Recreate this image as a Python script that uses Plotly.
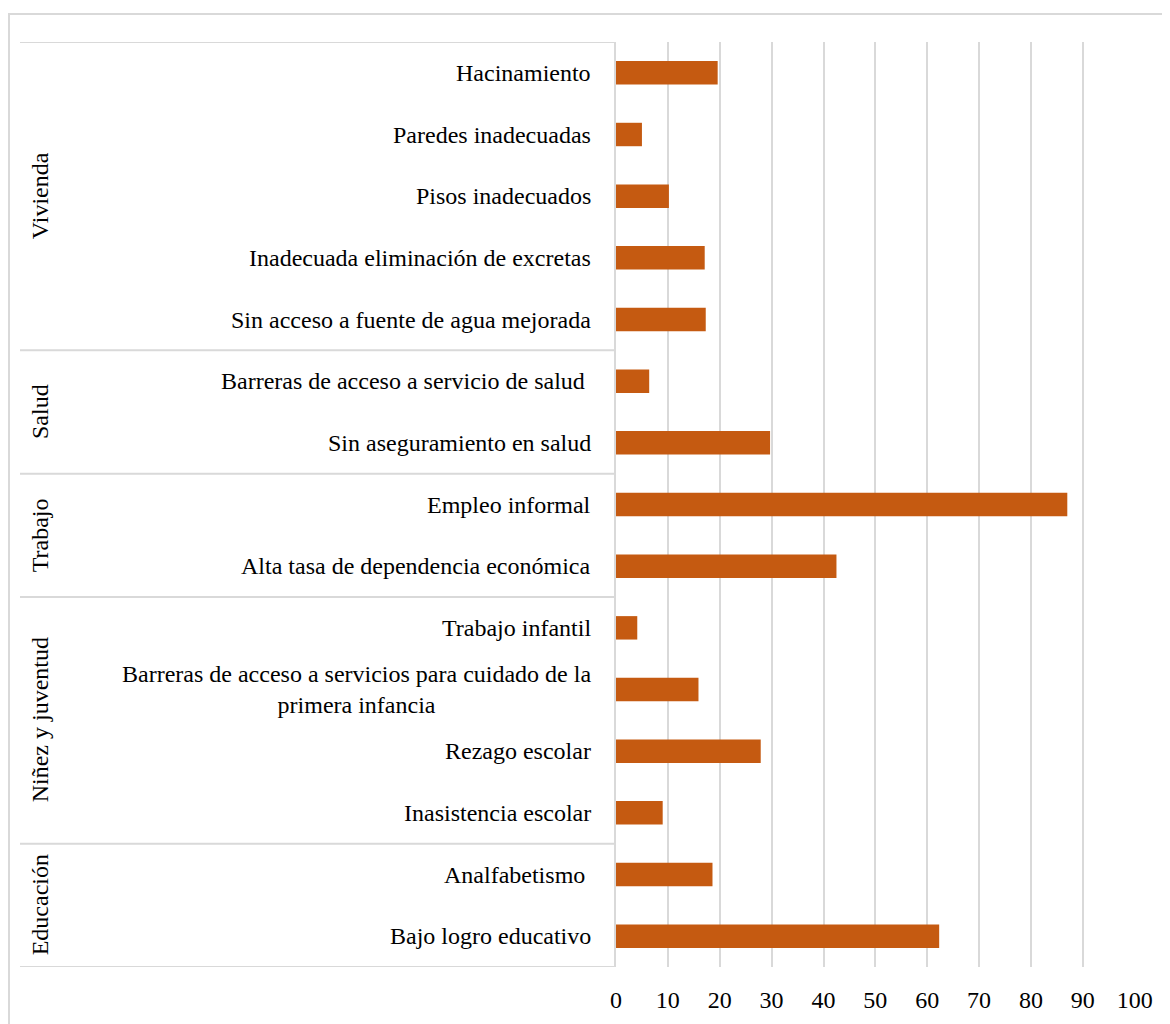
import plotly.graph_objects as go

# ---------------- data ----------------
groups = ["Vivienda", "Salud", "Trabajo", "Niñez y juventud", "Educación"]
group_sizes = [5, 2, 2, 4, 2]
categories = [
    "Hacinamiento",
    "Paredes inadecuadas",
    "Pisos inadecuados",
    "Inadecuada eliminación de excretas",
    "Sin acceso a fuente de agua mejorada",
    "Barreras de acceso a servicio de salud\u00a0",
    "Sin aseguramiento en salud",
    "Empleo informal",
    "Alta tasa de dependencia económica",
    "Trabajo infantil",
    "Barreras de acceso a servicios para cuidado de la<br>primera infancia",
    "Rezago escolar",
    "Inasistencia escolar",
    "Analfabetismo\u00a0",
    "Bajo logro educativo",
]
values = [19.6, 5.0, 10.2, 17.1, 17.3, 6.4, 29.7, 87.0, 42.5, 4.1, 15.9, 27.9, 9.0, 18.6, 62.3]
x_ticks = list(range(0, 101, 10))

# ---------------- layout constants ----------------
# the page body has an 8px margin, so the figure is made 8px smaller
OFF = 8
W, H = 1170 - OFF, 1024 - OFF
PLOT_LEFT, PLOT_RIGHT, PLOT_TOP, PLOT_BOTTOM = 616, 1135, 42, 967  # page pixels
L = PLOT_LEFT - OFF
T = PLOT_TOP - OFF
R = W - (PLOT_RIGHT - OFF)
B = H - (PLOT_BOTTOM - OFF)
PW = PLOT_RIGHT - PLOT_LEFT
PH = PLOT_BOTTOM - PLOT_TOP
FONT = "Liberation Serif, Times New Roman, serif"
FS = 24
GRID = "#d9d9d9"
BAR = "#C55A11"


def pxx(px):
    return (px - PLOT_LEFT) / PW


def pxy(py):
    return (PLOT_BOTTOM - py) / PH


fig = go.Figure(
    go.Bar(
        x=values,
        y=categories,
        orientation="h",
        marker=dict(color=BAR, line=dict(width=0)),
        width=0.38,
        hoverinfo="x+y",
    )
)

annotations = []
for c in categories:
    annotations.append(
        dict(
            x=pxx(593), xref="paper", y=c, yref="y",
            text=c, showarrow=False, xanchor="right", yanchor="middle",
            align="center", font=dict(family=FONT, size=FS, color="#000000"),
        )
    )

shapes = []
start = 0
bounds = [-0.5]
for g, n in zip(groups, group_sizes):
    center = start + (n - 1) / 2
    annotations.append(
        dict(
            x=pxx(40), xref="paper", y=center, yref="y",
            text=g, showarrow=False, textangle=-90,
            xanchor="center", yanchor="middle",
            font=dict(family=FONT, size=FS, color="#000000"),
        )
    )
    start += n
    bounds.append(start - 0.5)

for b in bounds:
    shapes.append(
        dict(type="line", xref="paper", yref="y", x0=pxx(20), x1=0, y0=b, y1=b,
             line=dict(color=GRID, width=2), layer="below")
    )

# outer chart border
shapes.append(
    dict(type="rect", xref="paper", yref="paper",
         x0=pxx(9), x1=pxx(1180), y0=pxy(1040), y1=pxy(14),
         line=dict(color=GRID, width=2), fillcolor="rgba(0,0,0,0)", layer="below")
)

fig.update_layout(
    width=W, height=H,
    margin=dict(l=L, r=R, t=T, b=B, pad=0),
    paper_bgcolor="white", plot_bgcolor="white",
    showlegend=False,
    bargap=0.62,
    annotations=annotations,
    shapes=shapes,
    font=dict(family=FONT, size=FS, color="#000000"),
    xaxis=dict(
        range=[0, 100.05], tickvals=x_ticks, ticktext=[str(v) for v in x_ticks],
        showgrid=True, gridcolor=GRID, gridwidth=2, zeroline=False,
        showline=False, ticks="", ticklabelstandoff=16,
        tickfont=dict(family=FONT, size=FS, color="#000000"),
        fixedrange=True,
    ),
    yaxis=dict(
        categoryorder="array", categoryarray=categories,
        range=[len(categories) - 0.5, -0.5],
        showticklabels=False, ticks="", showgrid=False, zeroline=False,
        showline=True, linecolor=GRID, linewidth=2,
        fixedrange=True,
    ),
)

fig.write_html("out.html")
